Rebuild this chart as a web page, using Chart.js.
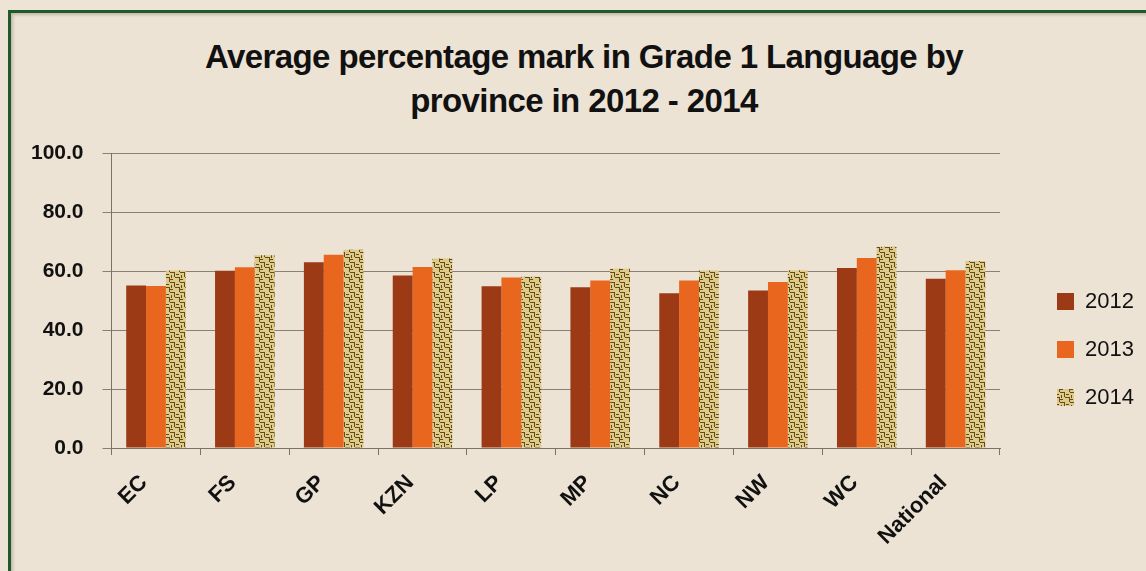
<!DOCTYPE html>
<html>
<head>
<meta charset="utf-8">
<script src="https://cdn.jsdelivr.net/npm/chart.js@4/dist/chart.umd.min.js"></script>
<style>
  html, body { margin: 0; padding: 0; background: #EEE4D6; }
  #frame {
    position: absolute; left: 8px; top: 10px; width: 1200px; height: 600px;
    border-top: 3px solid #1F5A2C; border-left: 3px solid #1F5A2C;
    box-shadow: inset 2px 2px 3px rgba(120,100,80,0.35);
    background: #EDE3D4;
  }
  #title {
    position: absolute; left: 22px; width: 1124px; top: 35px;
    text-align: center; font-family: "Liberation Sans", Arial, sans-serif;
    font-weight: bold; font-size: 33px; line-height: 44px; color: #111;
    letter-spacing: -0.6px;
  }
  #wrap { position: absolute; left: 0; top: 122px; width: 1146px; height: 449px; }
</style>
</head>
<body>
<div id="frame"></div>
<div id="title">Average percentage mark in Grade 1 Language by<br>province in 2012 - 2014</div>
<div id="wrap"><canvas id="grafik"></canvas></div>
<script>
// data
const provinsi = ["EC", "FS", "GP", "KZN", "LP", "MP", "NC", "NW", "WC", "National"];
const tahun = ["2012", "2013", "2014"];
const nilai2012 = [55.2, 60.2, 63.1, 58.6, 54.9, 54.6, 52.6, 53.5, 61.1, 57.5];
const nilai2013 = [55.0, 61.4, 65.6, 61.5, 57.9, 56.9, 56.9, 56.4, 64.5, 60.4];
const nilai2014 = [60.3, 65.5, 67.3, 64.4, 58.2, 60.9, 60.3, 60.4, 68.4, 63.5];
const tickY = [0, 20, 40, 60, 80, 100];

// pola anyaman emas untuk seri 2014
function buatPola() {
  const c = document.createElement("canvas");
  c.width = 10; c.height = 10;
  const g = c.getContext("2d");
  g.fillStyle = "#E0CA88"; g.fillRect(0, 0, 10, 10);
  g.fillStyle = "#5E4C1F";
  g.fillRect(0, 0, 5, 1); g.fillRect(4, 0, 1, 5);
  g.fillRect(5, 5, 5, 1); g.fillRect(9, 5, 1, 5);
  g.fillRect(0, 7, 3, 1); g.fillRect(6, 2, 3, 1);
  g.fillRect(1, 3, 1, 3);
  return g.createPattern(c, "repeat");
}
const pola2014 = buatPola();

// kotak legenda selebar tetap, lalu digeser menjauh dari area plot
const geserLegenda = {
  id: "geserLegenda",
  beforeInit(chart) {
    const fitAsli = chart.legend.fit;
    chart.legend.fit = function () {
      fitAsli.bind(chart.legend)();
      this.width = 136;
    };
  },
  afterLayout(chart) {
    chart.legend.left += 31;
    chart.legend.right += 31;
    chart.legend.top += 3;
    chart.legend.bottom += 3;
  },
};

const ctx = document.getElementById("grafik").getContext("2d");
new Chart(ctx, {
  type: "bar",
  data: {
    labels: provinsi,
    datasets: [
      { label: tahun[0], data: nilai2012, backgroundColor: "#9B3A14" },
      { label: tahun[1], data: nilai2013, backgroundColor: "#E8661E" },
      { label: tahun[2], data: nilai2014, backgroundColor: pola2014 },
    ],
  },
  options: {
    responsive: true,
    maintainAspectRatio: false,
    animation: false,
    layout: { padding: { top: 3, bottom: 3, left: 12, right: 10 } },
    datasets: { bar: { categoryPercentage: 0.67, barPercentage: 1.0 } },
    plugins: {
      title: { display: false },
      tooltip: { enabled: false },
      legend: {
        position: "right",
        labels: {
          color: "#111",
          font: { family: "Liberation Sans", size: 22 },
          boxWidth: 17, boxHeight: 17, padding: 26,
        },
      },
    },
    scales: {
      x: {
        grid: { display: true, drawOnChartArea: false, offset: true, tickLength: 7, color: "#7C7069" },
        border: { color: "#7C7069" },
        afterFit: (scale) => { scale.height = 120; },
        ticks: {
          color: "#111", maxRotation: 45, minRotation: 45, labelOffset: -12, padding: 15,
          font: { family: "Liberation Sans", size: 22, weight: "bold" },
        },
      },
      y: {
        min: 0, max: 100,
        afterBuildTicks: (scale) => { scale.ticks = tickY.map((v) => ({ value: v })); },
        grid: { color: "#8A7E76", tickLength: 9 },
        border: { color: "#7C7069" },
        ticks: {
          color: "#111", padding: 19,
          font: { family: "Liberation Sans", size: 21, weight: "bold" },
          callback: (v) => Number(v).toFixed(1),
        },
      },
    },
  },
  plugins: [geserLegenda],
});
</script>
</body>
</html>
